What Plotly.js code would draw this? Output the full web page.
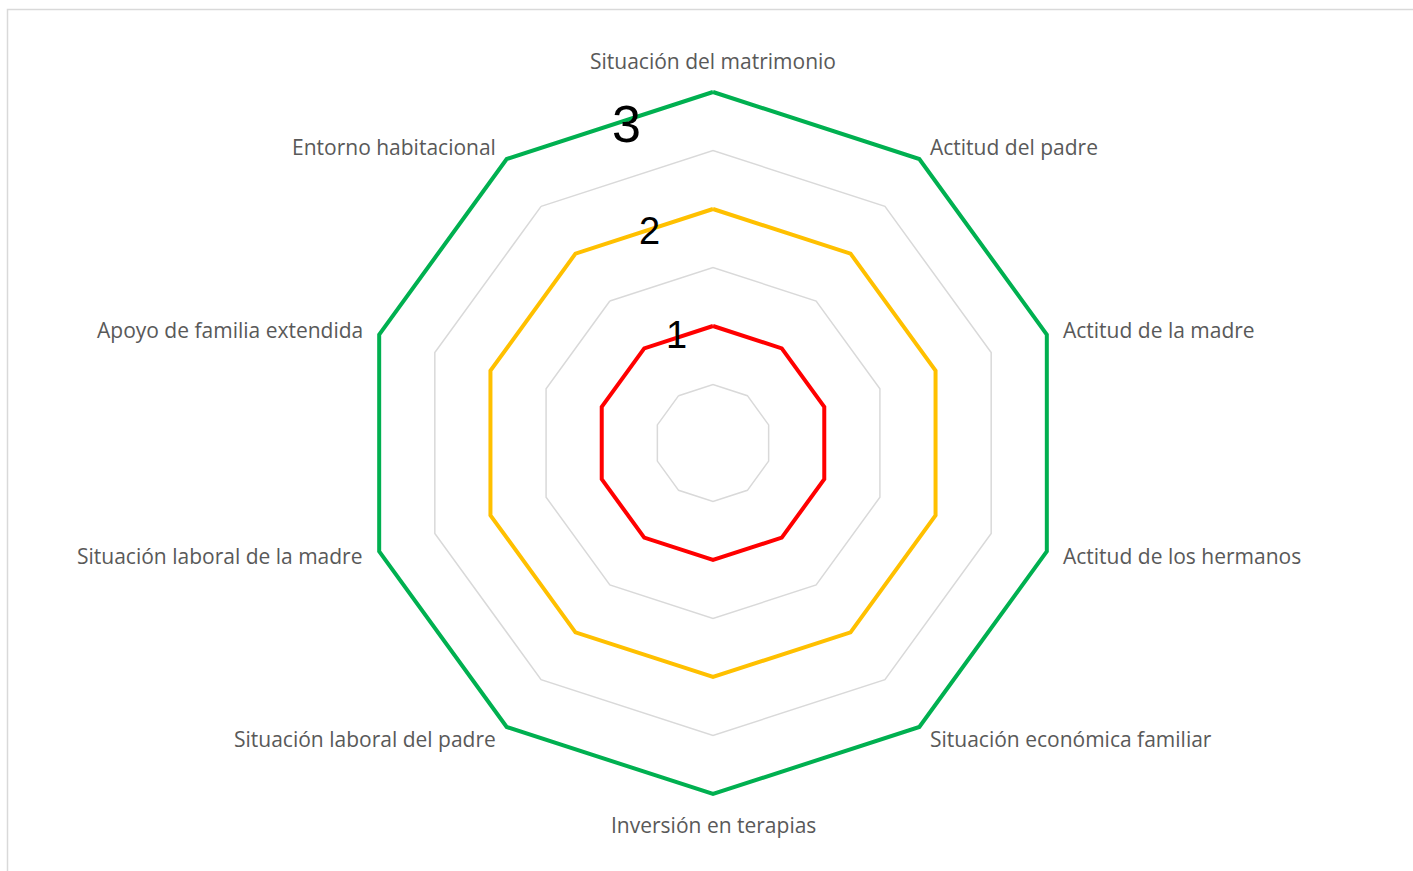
<!DOCTYPE html>
<html>
<head>
<meta charset="utf-8">
<script src="https://cdn.plot.ly/plotly-3.0.1.min.js"></script>
<style>html,body{margin:0;padding:0;background:#fff;}#chart{width:1413px;height:871px;}</style>
</head>
<body>
<div id="chart"></div>
<script>
const categories = [
  'Situación del matrimonio',
  'Actitud del padre',
  'Actitud de la madre',
  'Actitud de los hermanos',
  'Situación económica familiar',
  'Inversión en terapias',
  'Situación laboral del padre',
  'Situación laboral de la madre',
  'Apoyo de familia extendida',
  'Entorno habitacional'
];
const seriesRed    = [1,1,1,1,1,1,1,1,1,1];
const seriesYellow = [2,2,2,2,2,2,2,2,2,2];
const seriesGreen  = [3,3,3,3,3,3,3,3,3,3];
const levelLabels  = ['1','2','3'];

function closed(a){ return a.concat([a[0]]); }

const mk = (vals, color, name) => ({
  type: 'scatterpolar',
  mode: 'lines',
  r: closed(vals),
  theta: closed(categories),
  line: {color: color, width: 4},
  cliponaxis: false,
  name: name,
  hoverinfo: 'skip'
});

const data = [
  mk(seriesRed, '#FF0000', 'Bajo'),
  mk(seriesYellow, '#FFC000', 'Medio'),
  mk(seriesGreen, '#00B050', 'Alto')
];

const W = 1413, H = 871;
const cx = 713, cy = 443, R = 351;      // pixel radius of value 3
const rMax = 3, rPad = 3.04;             // axis range slightly beyond 3 so the outer line is not clipped
const Rdom = R * rPad / rMax;
const labelPos = [[676,335,38],[649,231,38],[626,124,52]];

const annotations = levelLabels.map((t,i) => ({
  text: t,
  xref: 'paper', yref: 'paper',
  x: labelPos[i][0]/W, y: 1 - labelPos[i][1]/H,
  xanchor: 'center', yanchor: 'middle',
  showarrow: false,
  font: {family: 'Liberation Sans Narrow, Liberation Sans, Arial', size: labelPos[i][2], color: '#000000'}
}));

// category labels placed just outside the outer ring, Excel style
const gap = 15;
categories.forEach((c, i) => {
  const th = i * 2 * Math.PI / categories.length;
  const s = Math.sin(th), co = Math.cos(th);
  const px = cx + (R + gap) * s, py = cy - (R + gap) * co;
  let xa = 'center', ya = 'middle';
  if (Math.abs(s) < 1e-6) { ya = co > 0 ? 'bottom' : 'top'; }
  else { xa = s > 0 ? 'left' : 'right'; }
  annotations.push({
    text: c, xref: 'paper', yref: 'paper',
    x: px / W, y: 1 - py / H, xanchor: xa, yanchor: ya,
    showarrow: false,
    font: {family: 'Open Sans, Noto Sans, sans-serif', size: 21, color: '#595959'}
  });
});

const layout = {
  width: W, height: H,
  margin: {l:0, r:0, t:0, b:0},
  paper_bgcolor: '#ffffff',
  showlegend: false,
  polar: {
    domain: {x: [(cx-Rdom)/W, (cx+Rdom)/W], y: [(H-cy-Rdom)/H, (H-cy+Rdom)/H]},
    gridshape: 'linear',
    bgcolor: 'rgba(0,0,0,0)',
    radialaxis: {
      range: [0, rPad], dtick: 0.5, tick0: 0,
      showticklabels: false, ticks: '', showline: false,
      gridcolor: '#d9d9d9', gridwidth: 1.5
    },
    angularaxis: {
      direction: 'clockwise', rotation: 90,
      showgrid: false, showline: false, ticks: '', showticklabels: false
    }
  },
  annotations: annotations,
  shapes: [{
    type: 'rect', xref: 'paper', yref: 'paper',
    x0: 7.5/W, x1: 1.05, y0: -0.05, y1: 1 - 9.5/H,
    line: {color: '#d9d9d9', width: 1.5}, fillcolor: 'rgba(0,0,0,0)', layer: 'below'
  }]
};

Plotly.newPlot('chart', data, layout, {displayModeBar: false, staticPlot: true});
</script>
</body>
</html>
